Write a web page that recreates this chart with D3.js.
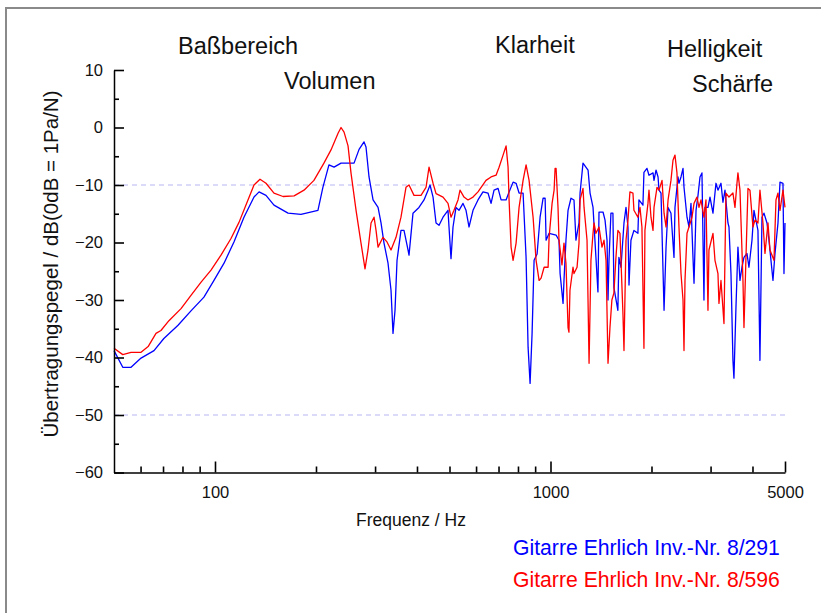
<!doctype html>
<html>
<head>
<meta charset="utf-8">
<title>Übertragungspegel Gitarre Ehrlich</title>
<script src="https://cdn.jsdelivr.net/npm/d3@7/dist/d3.min.js"></script>
<style>
  body { margin: 0; background: #fff; }
  svg text { font-family: "Liberation Sans", Arial, sans-serif; fill: #111; }
</style>
</head>
<body>
<svg id="chart" width="821" height="613"></svg>
<script>
// axis ticks
const yMajor = [-60, -50, -40, -30, -20, -10, 0, 10];
const yMinor = [-55, -45, -35, -25, -15, -5, 5];
const yGrid = [-10, -50];
const xMajor = [100, 1000, 5000];
const xMinor = [60, 70, 80, 90, 200, 300, 400, 500, 600, 700, 800, 900, 2000, 3000, 4000];

// region labels over the plot
const regions = [
  {text: "Baßbereich", x: 178, y: 54},
  {text: "Volumen", x: 284, y: 89},
  {text: "Klarheit", x: 495, y: 53},
  {text: "Helligkeit", x: 667, y: 57},
  {text: "Schärfe", x: 692, y: 92}
];

// [Hz, dB]
const blue291 = [
  [50, -38.8], [53.1, -41.7], [56.2, -41.7], [60.2, -40.1], [65.8, -38.8], [70.4, -36.7],
  [77.6, -34.4], [84.8, -31.9], [92.7, -29.5], [99.3, -26.6], [106.4, -23.6], [113.9, -19.9],
  [122, -15.6], [130.7, -12.1], [135.3, -11.2], [141.9, -11.8], [149.9, -13.5], [165.1, -14.9],
  [180.4, -15.1], [202.7, -14.4], [209.7, -10.4], [218.6, -6.5], [226.4, -6.9], [237.5, -6.2],
  [249.2, -6.2], [259.7, -6.2], [268.8, -3.8], [278.1, -2.5], [281.9, -3.4], [287.8, -8.6],
  [295.9, -12.6], [306.2, -13.9], [312.5, -16.6], [319, -20.1], [327.9, -23.6], [334.7, -28.3],
  [339.3, -35.8], [344, -31.8], [348.8, -23.1], [358.4, -17.9], [365.9, -17.9], [376.1, -21.3],
  [378.7, -22.2], [389.2, -14.9], [405.5, -13.9], [419.8, -12.6], [431.5, -10.9], [437.5, -10.0],
  [446.6, -12.1], [455.9, -16.6], [465.4, -17.0], [478.3, -15.6], [494.9, -14.4], [498.3, -17.3],
  [505.2, -22.8], [512.2, -17.3], [522.8, -13.9], [533.7, -14.4], [548.6, -13.2], [560, -14.4],
  [571.6, -17.3], [587.6, -14.4], [608, -12.6], [629.2, -11.2], [651.2, -11.4], [665, -13.2],
  [678.8, -10.9], [697.8, -10.6], [712.4, -12.6], [737.2, -12.6], [752.6, -11.2], [773.6, -9.5],
  [789.7, -9.7], [806, -11.4], [828.5, -11.4], [845.7, -22.6], [857.4, -38.2], [869.3, -44.5],
  [881.3, -35.8], [893.5, -23.1], [912.1, -22.0], [931.1, -15.6], [950.5, -12.3], [963.7, -12.3],
  [970.3, -19.6], [990.5, -18.4], [1039, -18.7], [1060, -19.6], [1068, -25.4], [1090, -30.6],
  [1097, -26.6], [1112, -19.6], [1128, -14.4], [1151, -12.3], [1175, -12.6], [1191, -19.6],
  [1216, -16.6], [1225, -11.4], [1250, -6.2], [1294, -7.4], [1312, -11.4], [1339, -13.9],
  [1366, -22.6], [1385, -28.6], [1395, -14.7], [1434, -14.7], [1454, -16.1], [1474, -19.6],
  [1484, -30.0], [1494, -23.1], [1514, -14.9], [1535, -14.9], [1545, -27.8], [1588, -31.8],
  [1599, -22.6], [1622, -24.3], [1656, -16.6], [1679, -13.9], [1702, -17.3], [1714, -27.4],
  [1737, -19.6], [1773, -17.9], [1822, -18.4], [1835, -12.6], [1886, -13.5], [1899, -7.8],
  [1939, -7.1], [1966, -8.3], [2021, -7.9], [2035, -9.2], [2063, -7.4], [2092, -8.6],
  [2106, -10.9], [2135, -11.4], [2165, -25.0], [2180, -31.8], [2210, -20.8], [2241, -13.9],
  [2286, -14.9], [2334, -22.6], [2350, -13.9], [2399, -8.6], [2415, -9.7], [2449, -8.6],
  [2483, -7.1], [2500, -10.4], [2552, -15.6], [2587, -17.3], [2623, -13.2], [2659, -22.6],
  [2678, -27.1], [2715, -14.4], [2752, -11.8], [2790, -8.6], [2828, -7.9], [2867, -30.0],
  [2887, -13.9], [2947, -13.9], [2988, -12.1], [3050, -14.9], [3113, -9.7], [3156, -10.9],
  [3222, -9.7], [3266, -13.0], [3312, -10.9], [3380, -16.6], [3404, -17.3], [3451, -25.4],
  [3498, -40.5], [3522, -43.6], [3571, -31.3], [3620, -20.8], [3671, -26.6], [3721, -24.3],
  [3773, -22.6], [3851, -21.9], [3904, -24.3], [3986, -19.6], [4041, -14.4], [4153, -17.9],
  [4210, -40.5], [4269, -15.6], [4328, -14.9], [4418, -16.6], [4479, -19.6], [4604, -26.6],
  [4668, -21.9], [4765, -16.6], [4831, -9.5], [4931, -9.7], [4965, -25.4], [5000, -16.6]
];

const red596 = [
  [50, -38.4], [53.1, -39.5], [56.2, -39.1], [60.2, -39.1], [63.2, -38.1], [66.7, -35.8],
  [69, -35.3], [72.9, -33.6], [79.2, -31.5], [84.8, -29.2], [90.9, -26.9], [97.3, -24.8],
  [104.2, -22.2], [111.6, -19.3], [117.9, -16.5], [125.4, -12.6], [130.7, -10.0], [136.2, -9.0],
  [141.9, -9.7], [149.9, -11.4], [159.5, -12.0], [172.1, -11.9], [184.2, -10.9], [197.2, -9.2],
  [211.2, -6.2], [221.7, -3.9], [232.7, -1.0], [237.5, 0.0], [242.5, -0.8], [249.2, -3.2],
  [254.3, -7.9], [263.3, -14.4], [272.4, -20.1], [280, -24.6], [285.8, -21.3], [291.8, -16.6],
  [297.9, -15.6], [302, -17.9], [306.2, -20.8], [316.8, -19.1], [325.6, -19.9], [334.7, -21.3],
  [346.4, -19.1], [358.4, -15.6], [370.9, -10.4], [378.7, -10.0], [391.9, -11.8], [411.2, -11.8],
  [425.6, -10.4], [434.5, -6.9], [446.6, -9.7], [455.9, -11.5], [478.3, -12.1], [494.9, -13.2],
  [505.2, -15.6], [515.7, -14.4], [530.1, -12.6], [537.4, -10.9], [552.3, -12.1], [567.7, -12.6],
  [587.6, -12.1], [608, -11.2], [642.3, -9.2], [665, -8.6], [688.3, -8.3], [702.6, -6.9],
  [722.2, -4.8], [737.2, -3.2], [747.4, -6.9], [752.6, -12.6], [763, -20.8], [773.6, -23.1],
  [789.7, -20.1], [806, -13.9], [828.5, -9.2], [845.7, -6.5], [863.3, -9.2], [887.4, -15.6],
  [905.8, -23.1], [924.7, -26.6], [937.5, -26.2], [957.1, -24.3], [983.7, -24.3], [990.5, -19.1],
  [1011, -13.2], [1025, -10.9], [1032, -7.1], [1039, -7.1], [1053, -13.9], [1060, -19.6],
  [1082, -23.9], [1097, -20.1], [1112, -23.6], [1128, -34.8], [1135, -35.6], [1143, -28.3],
  [1167, -24.3], [1175, -25.4], [1200, -24.3], [1216, -20.1], [1225, -12.6], [1250, -10.6],
  [1259, -13.9], [1285, -19.6], [1303, -41.0], [1320, -23.1], [1339, -18.4], [1348, -16.6],
  [1366, -18.4], [1395, -17.3], [1424, -20.8], [1444, -19.6], [1464, -23.1], [1484, -41.0],
  [1504, -34.8], [1524, -30.0], [1545, -28.8], [1567, -22.6], [1588, -17.9], [1611, -18.4],
  [1644, -32.3], [1656, -38.8], [1679, -19.6], [1702, -16.1], [1725, -11.2], [1761, -11.4],
  [1773, -14.4], [1822, -15.6], [1848, -13.9], [1873, -17.3], [1899, -38.4], [1912, -17.9],
  [1952, -13.2], [1966, -10.9], [1993, -15.6], [2021, -17.9], [2035, -13.9], [2077, -10.4],
  [2106, -10.9], [2150, -9.2], [2180, -14.9], [2210, -17.3], [2241, -12.6], [2286, -9.2],
  [2318, -5.7], [2350, -4.8], [2382, -7.9], [2415, -17.3], [2449, -25.4], [2483, -30.0],
  [2500, -38.8], [2517, -26.6], [2552, -18.4], [2587, -17.3], [2641, -15.6], [2678, -13.2],
  [2733, -12.1], [2771, -13.9], [2809, -12.6], [2867, -15.6], [2907, -12.6], [2947, -31.8],
  [2967, -21.3], [3050, -18.4], [3092, -23.1], [3156, -25.4], [3178, -30.6], [3222, -26.6],
  [3289, -34.1], [3334, -11.4], [3404, -12.1], [3498, -11.4], [3547, -13.9], [3596, -9.7],
  [3620, -7.9], [3671, -10.9], [3747, -26.6], [3773, -34.8], [3825, -22.6], [3878, -10.6],
  [3931, -10.9], [4013, -17.3], [4069, -16.1], [4153, -16.6], [4210, -10.9], [4298, -16.6],
  [4358, -21.9], [4449, -16.6], [4510, -21.3], [4636, -23.1], [4700, -12.6], [4765, -11.4],
  [4831, -14.4], [4931, -10.9], [5000, -13.9]
];

const series = [
  {name: "Gitarre Ehrlich Inv.-Nr. 8/291", color: "#0000ff", values: blue291},
  {name: "Gitarre Ehrlich Inv.-Nr. 8/596", color: "#ff0000", values: red596}
];

const svg = d3.select("#chart");

// outer frame
svg.append("path")
  .attr("d", "M6,613 V8 H821")
  .attr("fill", "none")
  .attr("stroke", "#8a8a8a")
  .attr("stroke-width", 2);

const x = d3.scaleLog().domain([50, 5000]).range([114, 785]);
const y = d3.scaleLinear().domain([-60, 10]).range([472.5, 70]);

// dashed lines at -10 and -50
svg.append("g").selectAll("line")
  .data(yGrid)
  .join("line")
  .attr("x1", x(50)).attr("x2", x(5000))
  .attr("y1", d => y(d)).attr("y2", d => y(d))
  .attr("stroke", "#b8b8f4")
  .attr("stroke-width", 1.2)
  .attr("stroke-dasharray", "5,4");

// curves
const line = d3.line().x(d => x(d[0])).y(d => y(d[1]));
svg.append("g").selectAll("path")
  .data(series)
  .join("path")
  .attr("d", d => line(d.values))
  .attr("fill", "none")
  .attr("stroke", d => d.color)
  .attr("stroke-width", 1.3)
  .attr("stroke-linejoin", "round");

// y axis, ticks inside
const yAxis = svg.append("g").attr("transform", `translate(${x(50)},0)`)
  .call(d3.axisLeft(y).tickValues(yMajor).tickSize(-10).tickSizeOuter(0).tickPadding(11)
    .tickFormat(d3.format("d")));
svg.append("g").attr("transform", `translate(${x(50)},0)`)
  .call(d3.axisLeft(y).tickValues(yMinor).tickSize(-5).tickFormat(""))
  .call(g => g.select(".domain").remove());

// x axis, ticks inside
const xAxis = svg.append("g").attr("transform", `translate(0,${y(-60)})`)
  .call(d3.axisBottom(x).tickValues(xMajor).tickSize(-11).tickSizeOuter(0).tickPadding(14)
    .tickFormat(d3.format("d")));
svg.append("g").attr("transform", `translate(0,${y(-60)})`)
  .call(d3.axisBottom(x).tickValues(xMinor).tickSize(-6).tickFormat(""))
  .call(g => g.select(".domain").remove());

svg.selectAll(".tick line").attr("stroke", "#000").attr("stroke-width", 1.6);
svg.selectAll(".domain").attr("stroke", "#000").attr("stroke-width", 1.5);
yAxis.selectAll("text").attr("font-size", 16.5).attr("fill", "#111");
xAxis.selectAll("text").attr("font-size", 16.5).attr("fill", "#111");

// axis titles
svg.append("text")
  .attr("transform", "translate(58,264) rotate(-90)")
  .attr("text-anchor", "middle")
  .attr("font-size", 20.5)
  .text("Übertragungspegel / dB(0dB = 1Pa/N)");

svg.append("text")
  .attr("x", 411).attr("y", 526)
  .attr("text-anchor", "middle")
  .attr("font-size", 17.5)
  .text("Frequenz / Hz");

// region labels
svg.append("g").selectAll("text")
  .data(regions)
  .join("text")
  .attr("x", d => d.x).attr("y", d => d.y)
  .attr("font-size", 23.5)
  .text(d => d.text);

// legend
svg.append("g").selectAll("text")
  .data(series)
  .join("text")
  .attr("x", 513).attr("y", (d, i) => 555 + i * 32)
  .attr("font-size", 21.2)
  .style("fill", d => d.color)
  .text(d => d.name);
</script>
</body>
</html>
